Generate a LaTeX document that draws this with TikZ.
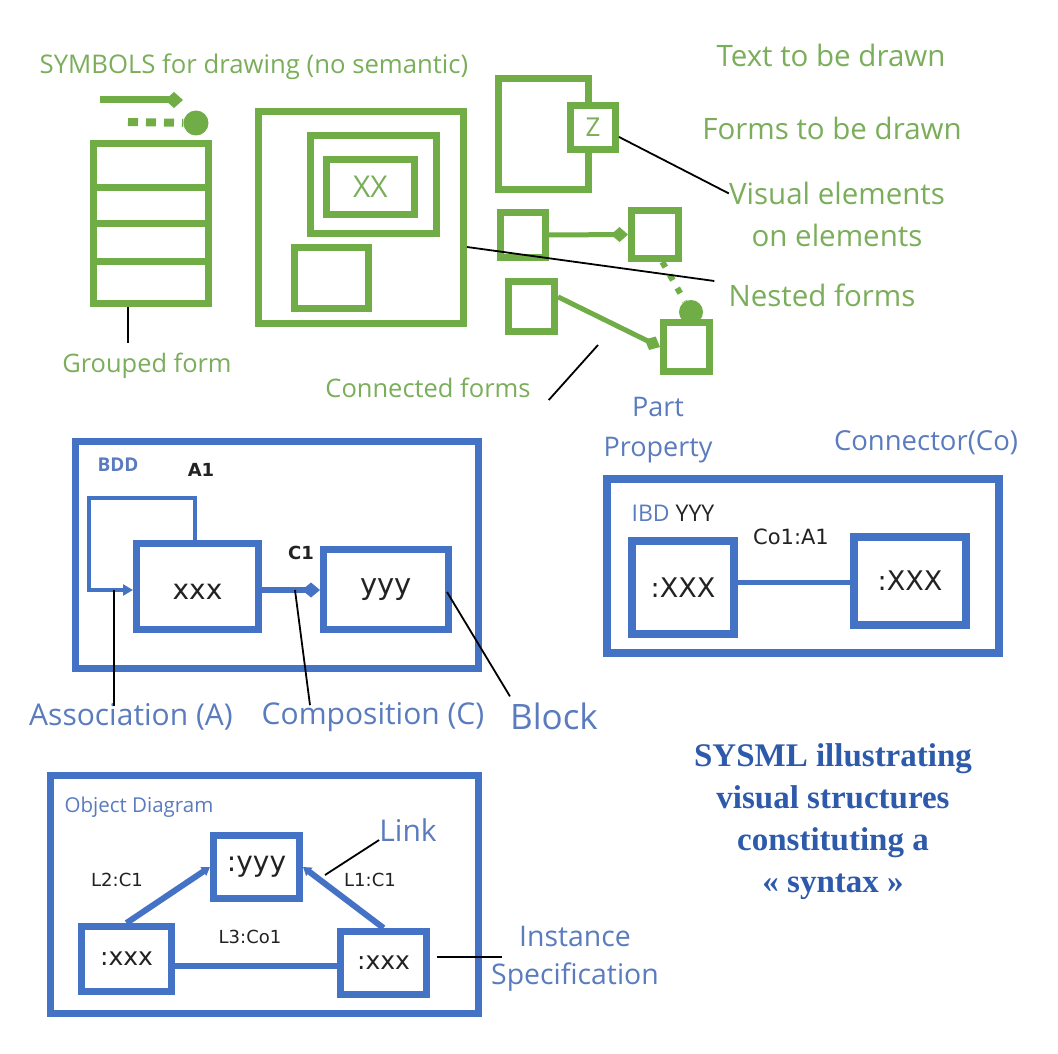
\documentclass[tikz,border=0pt]{standalone}
\usepackage{fontspec}
\setmainfont{Open Sans}
\newfontfamily\vfont{DejaVu Sans}
\newfontfamily\tfont{Liberation Serif}
\usetikzlibrary{arrows.meta,calc}
\definecolor{grn}{HTML}{70AD47}
\definecolor{gtxt}{HTML}{7AAE5A}
\definecolor{blu}{HTML}{4472C4}
\definecolor{btxt}{HTML}{5A7CBE}
\definecolor{ttl}{HTML}{2D5AAA}
\definecolor{dark}{HTML}{222222}
\begin{document}
\begin{tikzpicture}[x=1pt,y=-1pt,
  gbox/.style={draw=grn,line width=7pt,inner sep=0pt,fill=white},
  bbox/.style={draw=blu,line width=7pt,inner sep=0pt,fill=white},
  glab/.style={text=gtxt,font=\fontsize{29.5}{32}\selectfont,inner sep=0pt},
  blab/.style={text=btxt,font=\fontsize{30}{32}\selectfont,inner sep=0pt},
  ptr/.style={draw=black,line width=1.8pt},
  klab/.style={text=dark,font=\vfont\fontsize{18}{20}\selectfont,inner sep=0pt},
  gcon/.style={draw=grn,line width=5pt},
  bcon/.style={draw=blu,line width=6pt},
]
\useasboundingbox (0,0) rectangle (1058,1054);
\fill[white] (0,0) rectangle (1058,1054);

% ---------------- green symbols ----------------
\node[glab,font=\fontsize{25.7}{28}\selectfont] (lsym) at (254,67) {SYMBOLS for drawing (no semantic)};
\coordinate (sa1) at (100,100);
\coordinate (sa2) at (183,100);
\draw[grn,line width=7pt,-{Diamond[length=18pt,width=16pt]}] (sa1) -- (sa2);
\node[circle,fill=grn,minimum size=25pt,inner sep=0pt] (sdot) at (196,123) {};
\coordinate (sd1) at (128,122);
\draw[grn,line width=8pt,dash pattern=on 10pt off 8pt] (sd1) -- (sdot);

% grouped form
\node[gbox,minimum width=115pt,minimum height=160pt] (grp) at (151,223.5) {};
\foreach \yy in {188,223,261} \draw[grn,line width=7pt] (grp.west |- 0,\yy) -- (grp.east |- 0,\yy);
\coordinate (gp) at (128,343);
\draw[ptr] (grp.south -| gp) -- (gp);
\node[glab,font=\fontsize{25.4}{28}\selectfont] (lgrp) at (147,366) {Grouped form};

% nested forms
\node[gbox,minimum width=205pt,minimum height=212pt] (nst) at (361,217.5) {};
\node[gbox,minimum width=126pt,minimum height=98pt] (nst2) at (373.5,184.5) {};
\node[gbox,minimum width=88pt,minimum height=55pt,text=gtxt,font=\fontsize{30}{32}\selectfont] (nst3) at (370.5,187) {XX};
\node[gbox,minimum width=74pt,minimum height=61pt] (nst4) at (331.5,278) {};

% visual elements on elements
\node[gbox,minimum width=90pt,minimum height=111pt] (zmain) at (543.5,134) {};
\node[gbox,minimum width=45pt,minimum height=44pt,text=gtxt,font=\fontsize{26}{28}\selectfont] (zbox) at (593,127.5) {Z};

% connected forms
\node[gbox,minimum width=45pt,minimum height=45pt] (c1) at (523,235) {};
\node[gbox,minimum width=47pt,minimum height=48pt] (c2) at (655,234.5) {};
\node[gbox,minimum width=46pt,minimum height=50pt] (c3) at (531.5,306.5) {};
\node[gbox,minimum width=46pt,minimum height=49pt] (c4) at (686.5,347) {};
\draw[gcon,-{Diamond[length=17pt,width=15pt]}] (c1.east) -- (c2.west);
\draw[gcon,-{Diamond[length=17pt,width=15pt]}] (c3.20) -- (c4.west);
\node[circle,fill=grn,minimum size=24pt,inner sep=0pt] (cdot) at (691,312) {};
\draw[grn,line width=6pt,dash pattern=on 6pt off 9pt] (c2.-75) -- (cdot);

% right green labels
\node[glab] (ltxt) at (831,55) {Text to be drawn};
\node[glab] (lform) at (832,128) {Forms to be drawn};
\node[glab,align=center,font=\fontsize{29.5}{42}\selectfont] (lvis) at (837,214) {Visual elements\\on elements};
\node[glab] (lnest) at (822,295) {Nested forms};
\node[glab,font=\fontsize{25.5}{28}\selectfont] (lconn) at (428,388) {Connected forms};

\draw[ptr] (zbox.-20) -- ([yshift=-12pt]lvis.north west);
\draw[ptr] (nst.east |- 0,247) -- ([xshift=-14pt,yshift=14pt]lnest.west);
\coordinate (cfp) at (598,345);
\draw[ptr] (cfp) -- ([xshift=18pt,yshift=-12pt]lconn.east);

% ---------------- BDD ----------------
\node[bbox,minimum width=403pt,minimum height=227pt] (bdd) at (277,555) {};
\node[text=btxt,font=\bfseries\fontsize{19}{20}\selectfont,inner sep=0pt] (lbdd) at (118,465) {BDD};
\node[klab,font=\vfont\bfseries\fontsize{18}{20}\selectfont] (la1) at (201,470) {A1};
\node[klab,font=\vfont\bfseries\fontsize{18}{20}\selectfont] (lc1) at (301,553) {C1};
\node[bbox,minimum width=122pt,minimum height=86pt,text=dark,font=\vfont\fontsize{28}{30}\selectfont,text height=25pt,text depth=0pt] (xxx) at (197.5,586.5) {xxx};
\node[bbox,minimum width=125pt,minimum height=80pt,text=dark,font=\vfont\fontsize{29}{30}\selectfont] (yyy) at (386,589.5) {yyy};
\draw[blu,line width=4pt,-{Triangle[length=10pt,width=11pt]}] (xxx.north -| 195,0) -- (195,498) -- (89,498) -- (89,590) -- (xxx.west |- 0,590);
\draw[bcon,-{Diamond[length=18pt,width=15pt]}] (xxx.east |- 0,590) -- (yyy.west |- 0,590);

\coordinate (pa) at (114,590);
\coordinate (pc) at (295,590);
\coordinate (pb) at (447,592);
\node[blab] (lassoc) at (131,717) {Association (A)};
\node[blab] (lcomp) at (373,717) {Composition (C)};
\node[blab,font=\fontsize{35}{36}\selectfont] (lblock) at (554,716) {Block};
\draw[ptr] (pa) -- ([yshift=-3pt]lassoc.north -| pa);
\draw[ptr] (pc) -- ([xshift=-63pt,yshift=-3pt]lcomp.north);
\draw[ptr] (pb) -- ([yshift=6pt]lblock.north west);

% ---------------- IBD ----------------
\node[text=btxt,font=\fontsize{27}{40}\selectfont,align=center,inner sep=0pt] (lpart) at (658,430) {Part\\Property};
\node[blab,font=\fontsize{27.5}{30}\selectfont] (lconn2) at (926,443) {Connector(Co)};
\node[draw=blu,line width=8pt,inner sep=0pt,fill=white,minimum width=392pt,minimum height=174pt] (ibd) at (803,566) {};
\node[text=dark,font=\fontsize{23}{24}\selectfont,inner sep=0pt] (libd) at (673,513) {\textcolor{btxt}{IBD} YYY};
\node[klab,font=\vfont\fontsize{21}{24}\selectfont] (lco1) at (791,537) {Co1:A1};
\node[draw=blu,line width=8pt,inner sep=0pt,fill=white,minimum width=102pt,minimum height=93pt,text=dark,font=\vfont\fontsize{27}{30}\selectfont] (ibx1) at (683,587.5) {:XXX};
\node[draw=blu,line width=8pt,inner sep=0pt,fill=white,minimum width=112pt,minimum height=88pt,text=dark,font=\vfont\fontsize{27}{30}\selectfont] (ibx2) at (910,581) {:XXX};
\draw[blu,line width=5pt] (ibx1.east |- 0,582) -- (ibx2.west |- 0,582);

% ---------------- Object diagram ----------------
\node[bbox,minimum width=428pt,minimum height=238pt] (obj) at (264.5,894.5) {};
\node[text=btxt,font=\fontsize{20.5}{22}\selectfont,inner sep=0pt] (lobj) at (139,807) {Object Diagram};
\node[bbox,minimum width=86pt,minimum height=63pt,text=dark,font=\vfont\fontsize{28}{30}\selectfont] (oy) at (256.5,867) {:yyy};
\node[bbox,minimum width=90pt,minimum height=65pt,text=dark,font=\vfont\fontsize{25}{30}\selectfont] (ox1) at (126.5,959) {:xxx};
\node[bbox,minimum width=86pt,minimum height=63pt,text=dark,font=\vfont\fontsize{25}{30}\selectfont] (ox2) at (383.5,963) {:xxx};
\draw[bcon,-{Triangle[length=8pt,width=10pt]}] (ox1.north) -- (oy.west);
\draw[bcon,-{Triangle[length=8pt,width=10pt]}] (ox2.north) -- (oy.east);
\draw[bcon] (ox1.east |- 0,966) -- (ox2.west |- 0,966);
\node[klab] (ll2) at (117,880) {L2:C1};
\node[klab] (ll1) at (370,880) {L1:C1};
\node[klab] (ll3) at (250,937) {L3:Co1};
\node[blab,font=\fontsize{30}{32}\selectfont] (llink) at (408,830) {Link};
\coordinate (pl) at (325,875);
\draw[ptr] (pl) -- ([yshift=-10pt]llink.west);
\node[blab,font=\fontsize{28.4}{38}\selectfont,align=center] (linst) at (575,959) {Instance\\Specification};
\coordinate (pi) at (502,957);
\draw[ptr] ([xshift=7pt,yshift=6pt]ox2.east) -- (pi);

% ---------------- title ----------------
\node[text=ttl,font=\tfont\bfseries\fontsize{33}{42}\selectfont,align=center,inner sep=0pt] (title) at (833,822) {SYSML illustrating\\visual structures\\constituting a\\« syntax »};
\end{tikzpicture}
\end{document}
